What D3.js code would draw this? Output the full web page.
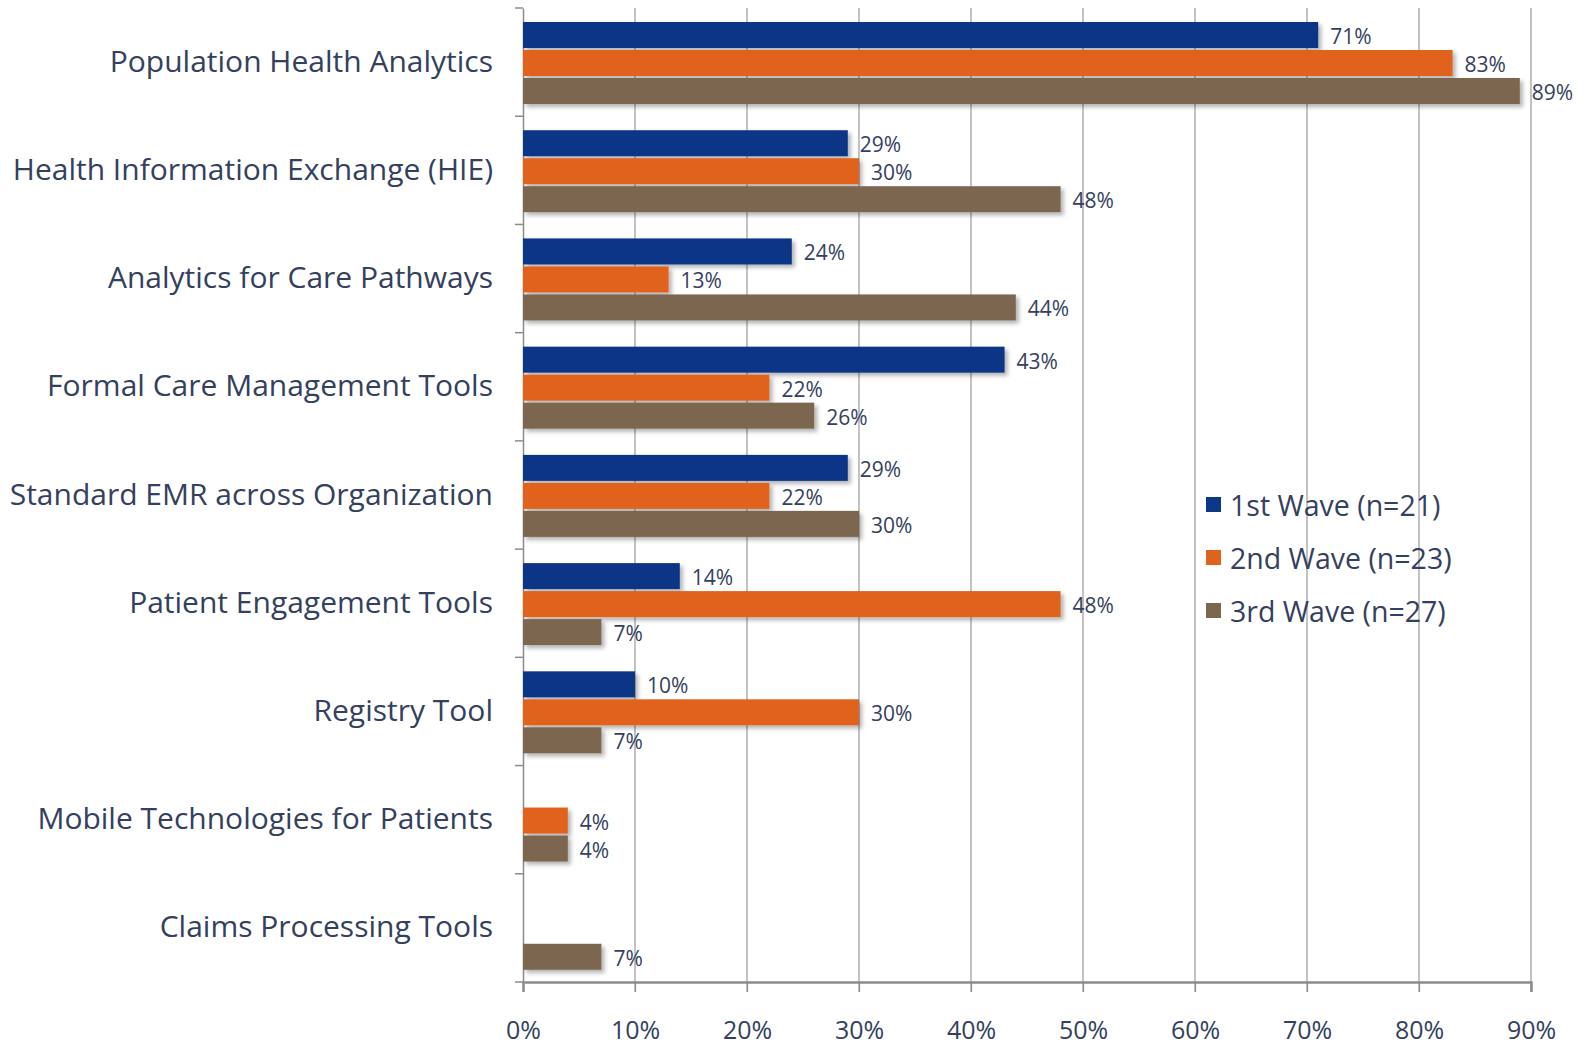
<!DOCTYPE html>
<html><head><meta charset="utf-8">
<script src="https://cdn.jsdelivr.net/npm/d3@7"></script>
<style>
html,body{margin:0;padding:0;background:#fff;}
svg{display:block;}
text{font-family:"Open Sans",Lato,sans-serif;}
</style></head>
<body>
<svg id="chart" width="1587" height="1047"></svg>
<script>
const categories = [
  "Population Health Analytics",
  "Health Information Exchange (HIE)",
  "Analytics for Care Pathways",
  "Formal Care Management Tools",
  "Standard EMR across Organization",
  "Patient Engagement Tools",
  "Registry Tool",
  "Mobile Technologies for Patients",
  "Claims Processing Tools"
];
const seriesNames = ["1st Wave (n=21)", "2nd Wave (n=23)", "3rd Wave (n=27)"];
const wave1 = [71, 29, 24, 43, 29, 14, 10, null, null];
const wave2 = [83, 30, 13, 22, 22, 48, 30, 4, null];
const wave3 = [89, 48, 44, 26, 30, 7, 7, 4, 7];
const xTicks = [0, 10, 20, 30, 40, 50, 60, 70, 80, 90];
const colors = ["#0c3687", "#e0621f", "#7b6650"];
const textColor = "#34405e";

const svg = d3.select("#chart");
const margin = {left: 523, right: 56, top: 8, bottom: 65};
const W = 1587, H = 1047;
const x = d3.scaleLinear().domain([0, 90]).range([margin.left, W - margin.right]);
const y = d3.scaleBand().domain(categories).range([margin.top, H - margin.bottom]).paddingInner(0).paddingOuter(0);

const defs = svg.append("defs");
const f = defs.append("filter").attr("id","sh").attr("x","-5%").attr("y","-30%").attr("width","120%").attr("height","180%");
f.append("feDropShadow").attr("dx",3).attr("dy",3).attr("stdDeviation",2).attr("flood-color","#000").attr("flood-opacity",0.3);

// gridlines
svg.append("g").selectAll("line").data(xTicks.slice(1)).join("line")
  .attr("x1", d=>x(d)).attr("x2", d=>x(d))
  .attr("y1", margin.top).attr("y2", H - margin.bottom + 10)
  .attr("stroke", "#9a9a9a").attr("stroke-width", 1.2);

// bottom axis
const xAxis = d3.axisBottom(x).tickValues(xTicks).tickFormat(d=>d+"%").tickSize(10).tickPadding(29);
const gx = svg.append("g").attr("transform", `translate(0,${H - margin.bottom})`).call(xAxis);
gx.select(".domain").attr("stroke","#8c8c8c").attr("stroke-width",2.5);
gx.selectAll(".tick line").attr("stroke","#8c8c8c").attr("stroke-width",1.2);
gx.selectAll(".tick text").attr("fill",textColor).attr("font-size",25).attr("font-family","Lato");

// left axis
const yAxis = d3.axisLeft(y).tickSize(0).tickPadding(30);
const gy = svg.append("g").attr("transform", `translate(${margin.left},0)`).call(yAxis);
gy.select(".domain").attr("stroke","#8c8c8c").attr("stroke-width",1.5);
gy.selectAll(".tick text").attr("fill",textColor).attr("font-size",30).attr("font-family","Open Sans");
// category boundary ticks
svg.append("g").selectAll("line").data(d3.range(categories.length+1)).join("line")
  .attr("x1", margin.left - 8).attr("x2", margin.left)
  .attr("y1", i => margin.top + i*y.step()).attr("y2", i => margin.top + i*y.step())
  .attr("stroke","#8c8c8c").attr("stroke-width",1.5);

// bars
const all = [wave1, wave2, wave3];
const barH = 26;
all.forEach((vals, s) => {
  const g = svg.append("g");
  const data = vals.map((v,i)=>({v, c:categories[i]})).filter(d=>d.v!==null);
  const yPos = d => y(d.c) + 14 + s*(barH+2);
  g.selectAll("rect").data(data).join("rect")
    .attr("x", x(0)).attr("y", yPos)
    .attr("width", d => x(d.v) - x(0)).attr("height", barH)
    .attr("fill", colors[s]).attr("filter","url(#sh)");
  g.selectAll("text").data(data).join("text")
    .attr("x", d => x(d.v) + 12).attr("y", d => yPos(d) + barH/2 + 9)
    .attr("fill",textColor).attr("font-size",21).attr("font-family","Lato")
    .text(d => d.v + "%");
});

// legend
const lg = svg.append("g").attr("transform","translate(1206,506)");
seriesNames.forEach((n,i)=>{
  lg.append("rect").attr("x",0).attr("y", i*53 - 9).attr("width",15).attr("height",15).attr("fill",colors[i]);
  lg.append("text").attr("x",24).attr("y", i*53).attr("dy","0.35em").attr("fill",textColor).attr("font-size",28.5).text(n);
});
</script>
</body></html>
